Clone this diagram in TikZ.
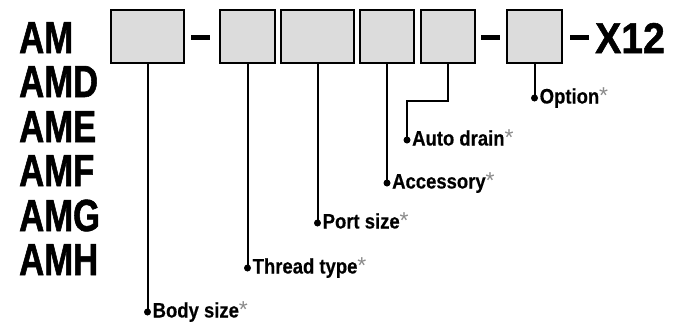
\documentclass[tikz,border=0pt]{standalone}
\usepackage{fontspec}
\setmainfont{Liberation Sans}
\newfontfamily\bigfont[FakeStretch=0.77,FakeBold=1.2]{Liberation Sans Bold}
\newfontfamily\xfont[FakeStretch=0.91,FakeBold=1.2]{Liberation Sans Bold}
\newfontfamily\lblfont[FakeStretch=0.88,FakeBold=0.4]{Liberation Sans Bold}
\newfontfamily\starfont{Liberation Sans}
\definecolor{boxgray}{HTML}{DCDCDC}
\definecolor{stargray}{HTML}{8A8A8A}
\newcommand{\rstar}{{\starfont\color{stargray}\fontsize{23}{23}\selectfont\raisebox{0.5pt}{*}}}
\begin{document}
\begin{tikzpicture}[x=1pt,y=-1pt,
  codebox/.style={draw=black, line width=2pt, fill=boxgray, inner sep=0pt, minimum height=53pt},
  bigtxt/.style={font=\bigfont\fontsize{45}{45}\selectfont, inner sep=0pt, anchor=base west},
  lbl/.style={font=\lblfont\fontsize{21}{21}\selectfont, inner sep=0pt, anchor=base west, xshift=5pt, yshift=-5.5pt},
  lead/.style={line width=2pt},
  sep/.style={line width=5pt},
  dot/.style={circle, fill=black, inner sep=0pt, minimum size=7pt}]
\useasboundingbox (0,0) rectangle (680,322);
% series names
\node[bigtxt] (am)  at (19,53)  {AM};
\node[bigtxt] (amd) at (19,97)  {AMD};
\node[bigtxt] (ame) at (19,142) {AME};
\node[bigtxt] (amf) at (19,186) {AMF};
\node[bigtxt] (amg) at (19,231) {AMG};
\node[bigtxt] (amh) at (19,275) {AMH};
% code boxes
\node[codebox, minimum width=73pt] (b1) at (147.5,36.5) {};
\node[codebox, minimum width=55pt] (b2) at (247.5,36.5) {};
\node[codebox, minimum width=73pt] (b3) at (317.5,36.5) {};
\node[codebox, minimum width=54pt] (b4) at (387,36.5) {};
\node[codebox, minimum width=54pt] (b5) at (448,36.5) {};
\node[codebox, minimum width=55pt] (b6) at (534.5,36.5) {};
% dashes
\coordinate (d1a) at (191,37); \coordinate (d1b) at (210,37);
\coordinate (d2a) at (481,37); \coordinate (d2b) at (500,37);
\coordinate (d3a) at (570,37); \coordinate (d3b) at (589,37);
\draw[sep] (d1a) -- (d1b);
\draw[sep] (d2a) -- (d2b);
\draw[sep] (d3a) -- (d3b);
\node[bigtxt, font=\xfont\fontsize{43}{43}\selectfont] (x12) at (595,53) {X12};
% dots
\node[dot] (p1) at (147.5,312) {};
\node[dot] (p2) at (247.5,268) {};
\node[dot] (p3) at (317.5,223) {};
\node[dot] (p4) at (387,183) {};
\node[dot] (p5) at (407,140) {};
\node[dot] (p6) at (534.5,98) {};
\coordinate (k5) at (448,101);
% leaders
\draw[lead] (b1.south) -- (p1.center);
\draw[lead] (b2.south) -- (p2.center);
\draw[lead] (b3.south) -- (p3.center);
\draw[lead] (b4.south) -- (p4.center);
\draw[lead] (b5.south) -- (k5) -| (p5.center);
\draw[lead] (b6.south) -- (p6.center);
% labels
\node[lbl] (l1) at (p1.center) {Body size\rstar};
\node[lbl] (l2) at (p2.center) {Thread type\rstar};
\node[lbl] (l3) at (p3.center) {Port size\rstar};
\node[lbl] (l4) at (p4.center) {Accessory\rstar};
\node[lbl] (l5) at (p5.center) {Auto drain\rstar};
\node[lbl] (l6) at (p6.center) {Option\rstar};
\end{tikzpicture}
\end{document}
